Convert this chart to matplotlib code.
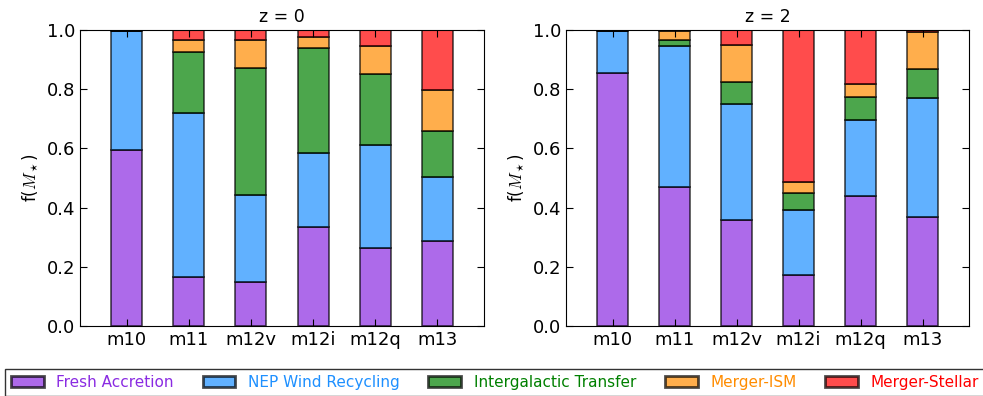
import numpy as np
import matplotlib.pyplot as plt

plt.rcParams['mathtext.fontset'] = 'cm'

# halo names and fraction of stellar mass by channel
halos = ["m10", "m11", "m12v", "m12i", "m12q", "m13"]
labels = ["Fresh Accretion", "NEP Wind Recycling", "Intergalactic Transfer",
          "Merger-ISM", "Merger-Stellar"]
colors = ["blueviolet", "dodgerblue", "green", "darkorange", "red"]

# z = 0
fresh_z0 = [0.595, 0.166, 0.147, 0.333, 0.265, 0.286]
wind_z0 = [0.403, 0.555, 0.295, 0.253, 0.347, 0.219]
transfer_z0 = [0.0, 0.206, 0.428, 0.352, 0.239, 0.153]
ism_z0 = [0.0, 0.038, 0.096, 0.037, 0.095, 0.140]
stellar_z0 = [0.002, 0.035, 0.034, 0.025, 0.054, 0.202]

# z = 2
fresh_z2 = [0.856, 0.470, 0.359, 0.173, 0.438, 0.368]
wind_z2 = [0.142, 0.476, 0.392, 0.218, 0.258, 0.403]
transfer_z2 = [0.0, 0.019, 0.072, 0.060, 0.078, 0.097]
ism_z2 = [0.0, 0.033, 0.126, 0.037, 0.043, 0.125]
stellar_z2 = [0.002, 0.002, 0.051, 0.512, 0.183, 0.007]

panels = [("z = 0", [fresh_z0, wind_z0, transfer_z0, ism_z0, stellar_z0]),
          ("z = 2", [fresh_z2, wind_z2, transfer_z2, ism_z2, stellar_z2])]

fig = plt.figure(figsize=(9.83, 3.96), dpi=100)
axes = [fig.add_axes([80/983, 70/396, 404/983, 296/396]),
        fig.add_axes([566/983, 70/396, 403/983, 296/396])]

x = np.arange(len(halos))
handles = []
for ax, (title, series) in zip(axes, panels):
    bottom = np.zeros(len(halos))
    handles = []
    for vals, c, lab in zip(series, colors, labels):
        b = ax.bar(x, vals, width=0.5, bottom=bottom, color=c, alpha=0.7,
                   edgecolor="black", linewidth=1.2, label=lab)
        handles.append(b)
        bottom += np.array(vals)
    ax.set_xlim(-0.75, 5.75)
    ax.set_ylim(0, 1)
    ax.set_xticks(x)
    ax.set_xticklabels(halos, fontsize=13)
    ax.set_yticks(np.arange(0, 1.01, 0.2))
    ax.tick_params(axis="y", labelsize=13)
    ax.tick_params(direction="in", top=True, right=True, length=5)
    ax.set_ylabel(r"f($M_\star$)", fontsize=12)
    ax.set_title(title, fontsize=12.5, pad=6)

leg = fig.legend(handles, labels, ncol=5, loc="upper left",
                 bbox_to_anchor=(0.005, 1 - 369/396), fontsize=11,
                 frameon=True, fancybox=False, edgecolor="black",
                 handlelength=2.15, columnspacing=1.9, borderaxespad=0)
for txt, c in zip(leg.get_texts(), colors):
    txt.set_color(c)
for h in leg.legend_handles:
    h.set_linewidth(2)

fig.savefig("out.png", dpi=100)
